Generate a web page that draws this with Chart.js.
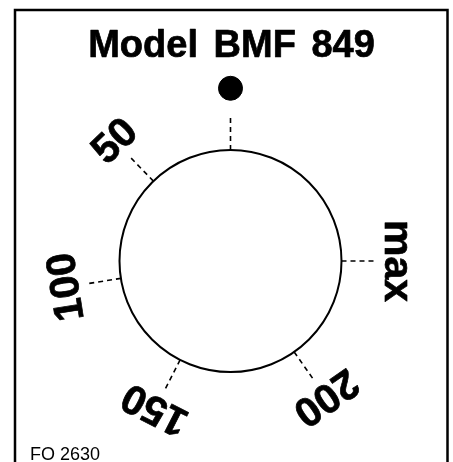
<!DOCTYPE html>
<html lang="en">
<head>
    <meta charset="UTF-8">
    <title>Model BMF 849</title>
    <script src="https://cdn.jsdelivr.net/npm/chart.js"></script>
    <style>
        html, body { margin: 0; padding: 0; background: #fff; }
        canvas { display: block; }
    </style>
</head>
<body>
    <canvas id="dial" width="453" height="462"></canvas>
    <script>
        // dial data: labels and their position in degrees, clockwise from top
        const dialLabels = ['50', '100', '150', '200', 'max'];
        const dialAngles = [-44, -99, -153, -215, -270];
        const offAngle = 0;       // position of the black dot
        const titleText = 'Model BMF 849';
        const footText = 'FO 2630';

        // dial radius = 1 unit
        const tickIn = 1.0, tickOut = 1.3, dotR = 1.556, labelR = 1.49;

        function polar(deg, r) {
            const a = deg * Math.PI / 180;
            return { x: r * Math.sin(a), y: r * Math.cos(a) };
        }

        const tickSets = [offAngle].concat(dialAngles).map(a => ({
            type: 'line',
            data: [polar(a, tickIn), polar(a, tickOut)],
            borderColor: '#000',
            borderWidth: 1.6,
            borderDash: [5, 4],
            pointRadius: 0,
            fill: false
        }));

        const dotSet = {
            type: 'scatter',
            data: [polar(offAngle, dotR)],
            pointRadius: 12,
            pointBackgroundColor: '#000',
            pointBorderColor: '#000'
        };

        function boldText(ctx, txt, x, y) {
            ctx.fillText(txt, x, y);
            ctx.strokeText(txt, x, y);
        }

        const dialPlugin = {
            id: 'dialPlugin',
            beforeDatasetsDraw(chart) {
                const ctx = chart.ctx, xs = chart.scales.x, ys = chart.scales.y;
                const cx = xs.getPixelForValue(0), cy = ys.getPixelForValue(0);
                const r = xs.getPixelForValue(1) - cx;
                ctx.save();
                // frame
                ctx.strokeStyle = '#000';
                ctx.lineWidth = 2.5;
                ctx.beginPath();
                ctx.moveTo(15, 462);
                ctx.lineTo(15, 10);
                ctx.lineTo(447.5, 10);
                ctx.lineTo(447.5, 462);
                ctx.stroke();
                // knob
                ctx.lineWidth = 2;
                ctx.beginPath();
                ctx.arc(cx, cy, r, 0, Math.PI * 2);
                ctx.stroke();
                ctx.restore();
            },
            afterDatasetsDraw(chart) {
                const ctx = chart.ctx, xs = chart.scales.x, ys = chart.scales.y;
                ctx.save();
                ctx.fillStyle = '#000';
                ctx.strokeStyle = '#000';
                ctx.lineWidth = 0.7;
                ctx.lineJoin = 'round';
                ctx.textAlign = 'center';
                ctx.textBaseline = 'alphabetic';
                // title words are spaced a bit wider than a normal space
                ctx.font = 'bold 38px "Liberation Sans", Arial, sans-serif';
                ctx.wordSpacing = '5px';
                boldText(ctx, titleText, 231.5, 57);
                ctx.wordSpacing = '0px';
                ctx.textAlign = 'left';
                ctx.font = '18px "Liberation Sans", Arial, sans-serif';
                ctx.fillText(footText, 30, 460);

                ctx.font = 'bold 41px "Liberation Sans", Arial, sans-serif';
                ctx.textAlign = 'center';
                ctx.textBaseline = 'middle';
                dialLabels.forEach((lab, i) => {
                    const p = polar(dialAngles[i], labelR);
                    ctx.save();
                    ctx.translate(xs.getPixelForValue(p.x), ys.getPixelForValue(p.y));
                    ctx.rotate(dialAngles[i] * Math.PI / 180);
                    boldText(ctx, lab, 0, 0);
                    ctx.restore();
                });
                ctx.restore();
            }
        };

        const unit = 111;
        new Chart(document.getElementById('dial'), {
            data: { datasets: tickSets.concat([dotSet]) },
            options: {
                responsive: false,
                animation: false,
                layout: { padding: 0, autoPadding: false },
                plugins: { legend: { display: false }, tooltip: { enabled: false } },
                scales: {
                    x: { type: 'linear', display: false, min: -230.5 / unit, max: (453 - 230.5) / unit },
                    y: { type: 'linear', display: false, min: -(462 - 261) / unit, max: 261 / unit }
                }
            },
            plugins: [dialPlugin]
        });
    </script>
</body>
</html>
